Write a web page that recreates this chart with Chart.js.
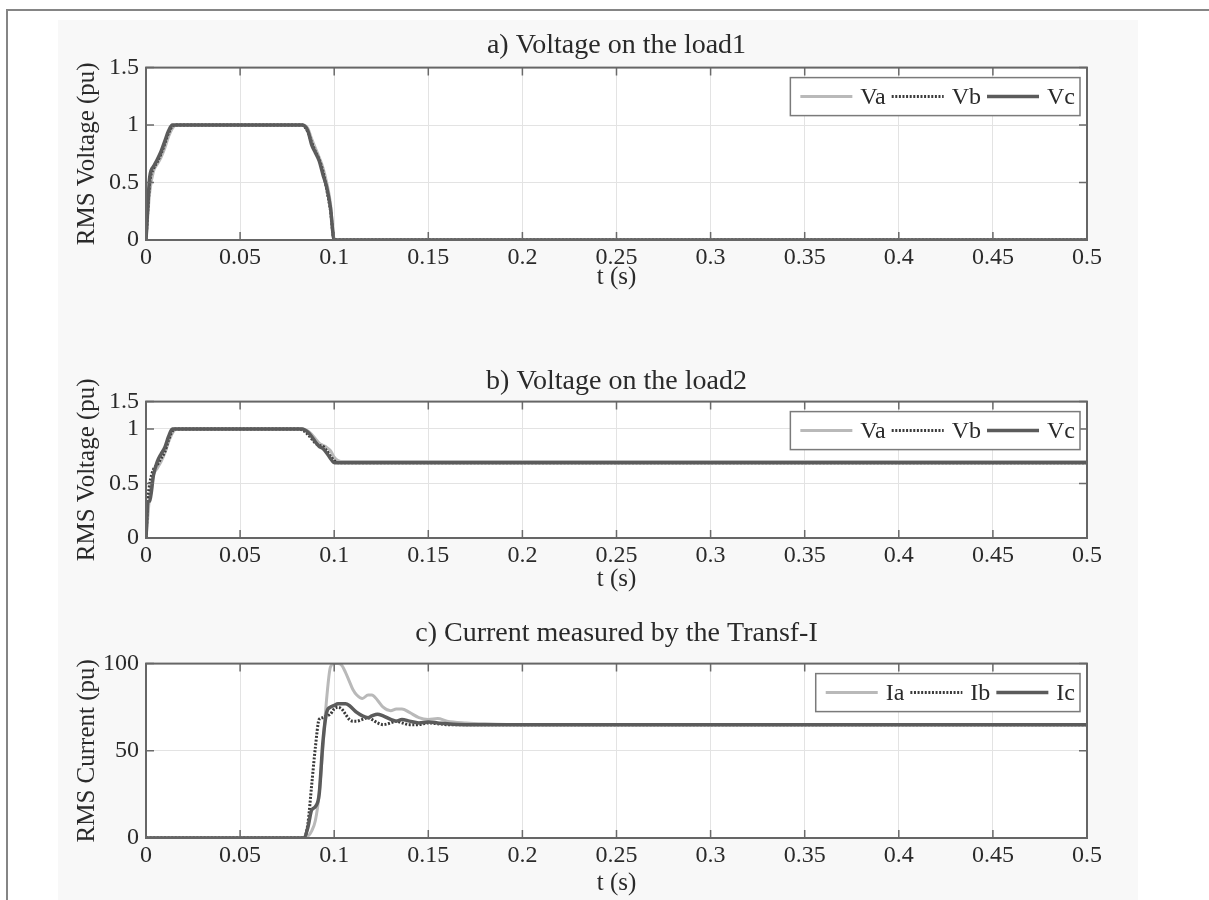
<!DOCTYPE html>
<html><head><meta charset="utf-8">
<script src="https://cdn.jsdelivr.net/npm/chart.js@4.4.0/dist/chart.umd.min.js"></script>
<style>
html,body{margin:0;padding:0;background:#fff;}
body{width:1209px;height:900px;position:relative;overflow:hidden;}
#frame{position:absolute;left:6px;top:9px;width:1203px;height:891px;border-top:2px solid #858585;border-left:2px solid #858585;box-sizing:border-box;}
#fig{position:absolute;left:58px;top:20px;width:1080px;height:880px;background:#f8f8f8;}
canvas{position:absolute;left:0;}
</style></head><body>
<div id="frame"></div><div id="fig"></div>
<canvas id="cA" width="1233" height="290" style="top:20px;width:1233px;height:290px"></canvas>
<canvas id="cB" width="1233" height="250" style="top:355px;width:1233px;height:250px"></canvas>
<canvas id="cC" width="1233" height="292" style="top:608px;width:1233px;height:292px"></canvas>
<script>
// ---------- shared axis ticks ----------
const xTicks = [0, 0.05, 0.1, 0.15, 0.2, 0.25, 0.3, 0.35, 0.4, 0.45, 0.5];
const xTickLabels = ['0', '0.05', '0.1', '0.15', '0.2', '0.25', '0.3', '0.35', '0.4', '0.45', '0.5'];

// ---------- a) Voltage on the load1 ----------
const titleA = 'a) Voltage on the load1';
const tA = [0, 0.002, 0.004, 0.006, 0.008, 0.010, 0.012, 0.014, 0.016, 0.02, 0.08, 0.083, 0.086, 0.088, 0.09, 0.092, 0.094, 0.096, 0.098, 0.1, 0.102, 0.5];
const a_Va = [0, 0.42, 0.6, 0.66, 0.72, 0.8, 0.9, 0.97, 1, 1, 1, 1, 0.97, 0.88, 0.8, 0.72, 0.63, 0.5, 0.32, 0, 0, 0];
const a_Vb = [0, 0.5, 0.62, 0.68, 0.75, 0.84, 0.93, 0.99, 1, 1, 1, 1, 0.94, 0.85, 0.77, 0.7, 0.6, 0.44, 0.26, 0, 0, 0];
const a_Vc = [0, 0.55, 0.64, 0.7, 0.77, 0.86, 0.95, 1, 1, 1, 1, 1, 0.95, 0.83, 0.76, 0.69, 0.57, 0.46, 0.28, 0, 0, 0];
const yTicksA = [0, 0.5, 1, 1.5];
const yTickLabelsA = ['0', '0.5', '1', '1.5'];

// ---------- b) Voltage on the load2 ----------
const titleB = 'b) Voltage on the load2';
const tB = [0, 0.001, 0.002, 0.004, 0.006, 0.008, 0.010, 0.012, 0.014, 0.016, 0.02, 0.08, 0.083, 0.086, 0.088, 0.09, 0.092, 0.094, 0.096, 0.098, 0.1, 0.102, 0.105, 0.11, 0.12, 0.13, 0.5];
const b_Va = [0, 0.2, 0.4, 0.58, 0.64, 0.7, 0.78, 0.88, 0.96, 1, 1, 1, 1, 0.98, 0.95, 0.91, 0.87, 0.85, 0.83, 0.8, 0.74, 0.71, 0.7, 0.7, 0.7, 0.7, 0.7];
const b_Vb = [0, 0.35, 0.5, 0.63, 0.67, 0.73, 0.79, 0.9, 0.98, 1, 1, 1, 0.99, 0.95, 0.91, 0.87, 0.85, 0.84, 0.8, 0.75, 0.71, 0.69, 0.69, 0.69, 0.69, 0.69, 0.69];
const b_Vc = [0, 0.33, 0.34, 0.58, 0.7, 0.77, 0.83, 0.93, 1, 1, 1, 1, 1, 0.97, 0.93, 0.88, 0.84, 0.82, 0.78, 0.73, 0.69, 0.69, 0.69, 0.69, 0.69, 0.69, 0.69];
const yTicksB = [0, 0.5, 1, 1.25];
const yTickLabelsB = ['0', '0.5', '1', '1.5'];

// ---------- c) Current measured by the Transf-I ----------
const titleC = 'c) Current measured by the Transf-I';
const tC = [0, 0.084, 0.086, 0.088, 0.09, 0.092, 0.094, 0.096, 0.098, 0.1, 0.102, 0.104, 0.106, 0.108, 0.11, 0.112, 0.115, 0.118, 0.12, 0.123, 0.126, 0.13, 0.133, 0.136, 0.14, 0.145, 0.15, 0.155, 0.16, 0.17, 0.18, 0.2, 0.5];
const c_Ia = [0, 0, 1, 4, 10, 25, 52, 80, 98, 100, 100, 99, 95, 90, 85, 82, 80, 82, 82, 79, 75, 73, 74, 74, 72, 69, 68, 68.5, 67, 66, 65.5, 65, 65];
const c_Ib = [0, 0, 8, 30, 52, 68, 69, 70, 71, 74, 75, 74, 71, 68, 67, 67, 68, 69, 68, 66, 65, 66, 67, 66, 65, 65, 66, 65.5, 65, 65, 65, 65, 65];
const c_Ic = [0, 0, 6, 16, 18, 25, 55, 72, 75, 76, 77, 77, 77, 76, 74, 72, 70, 69, 70, 71, 70, 68, 67, 68, 67, 66, 66.5, 66, 65.5, 65, 65, 65, 65];
const yTicksC = [0, 50, 100];
const yTickLabelsC = ['0', '50', '100'];

// ---------- styles ----------
const TXT = '#2a2a2a';
const GRID = '#e3e3e3';
Chart.defaults.font.family = "'Liberation Serif', 'DejaVu Serif', serif";
Chart.defaults.color = TXT;

function pts(t, v) { return t.map((x, i) => ({x: x, y: v[i]})); }
function series(label, t, v, kind) {
  const st = {
    a: {borderColor: '#b9b9b9', borderWidth: 3, borderDash: [], order: 2},
    b: {borderColor: '#3a3a3a', borderWidth: 3, borderDash: [2, 1.6], order: 1},
    c: {borderColor: '#5b5b5b', borderWidth: 3.5, borderDash: [], order: 0}
  }[kind];
  return Object.assign({label: label, data: pts(t, v), pointRadius: 0, cubicInterpolationMode: 'monotone', fill: false, borderCapStyle: 'butt'}, st);
}

const plotBg = {
  id: 'plotBg',
  beforeDraw(chart) {
    const a = chart.chartArea, ctx = chart.ctx;
    ctx.save(); ctx.fillStyle = '#ffffff';
    ctx.fillRect(a.left, a.top, a.right - a.left, a.bottom - a.top);
    ctx.restore();
  }
};
const boxTicks = {
  id: 'boxTicks',
  afterDatasetsDraw(chart) {
    const a = chart.chartArea, ctx = chart.ctx;
    const xs = chart.scales.x, ys = chart.scales.y;
    ctx.save();
    ctx.strokeStyle = '#6a6a6a'; ctx.lineWidth = 1.5; ctx.setLineDash([]);
    const L = 8;
    ctx.beginPath();
    xs.ticks.forEach(tk => {
      const px = xs.getPixelForValue(tk.value);
      ctx.moveTo(px, a.bottom); ctx.lineTo(px, a.bottom - L);
      ctx.moveTo(px, a.top); ctx.lineTo(px, a.top + L);
    });
    ys.ticks.forEach(tk => {
      const py = ys.getPixelForValue(tk.value);
      ctx.moveTo(a.left, py); ctx.lineTo(a.left + L, py);
      ctx.moveTo(a.right, py); ctx.lineTo(a.right - L, py);
    });
    ctx.stroke();
    ctx.strokeStyle = '#666'; ctx.lineWidth = 2;
    ctx.strokeRect(a.left, a.top, a.right - a.left, a.bottom - a.top);
    ctx.restore();
  }
};
const boxLegend = {
  id: 'boxLegend',
  afterDraw(chart) {
    const ctx = chart.ctx, a = chart.chartArea, ds = chart.data.datasets;
    ctx.save();
    ctx.font = "24px 'Liberation Serif', serif";
    const sample = 52, gapS = 8, gapItem = 6, padL = 10, padR = 5, h = 38;
    let w = padL + padR;
    ds.forEach((d, i) => { w += sample + gapS + ctx.measureText(d.label).width + (i < ds.length - 1 ? gapItem : 0); });
    const x0 = a.right - 7 - w, y0 = a.top + 10;
    ctx.fillStyle = '#fff'; ctx.fillRect(x0, y0, w, h);
    ctx.strokeStyle = '#7a7a7a'; ctx.lineWidth = 1.5; ctx.strokeRect(x0, y0, w, h);
    let x = x0 + padL; const cy = y0 + h / 2;
    ds.forEach(d => {
      ctx.beginPath(); ctx.setLineDash(d.borderDash || []);
      ctx.strokeStyle = d.borderColor; ctx.lineWidth = d.borderWidth;
      ctx.moveTo(x, cy); ctx.lineTo(x + sample, cy); ctx.stroke();
      ctx.setLineDash([]);
      x += sample + gapS;
      ctx.fillStyle = TXT; ctx.textBaseline = 'middle'; ctx.textAlign = 'left';
      ctx.fillText(d.label, x, cy + 1);
      x += ctx.measureText(d.label).width + gapItem;
    });
    ctx.restore();
  }
};

function makeChart(id, cfg) {
  return new Chart(document.getElementById(id), {
    type: 'line',
    data: {datasets: cfg.datasets},
    options: {
      responsive: false, animation: false, devicePixelRatio: 1,
      layout: {padding: {left: 0, right: 0, top: 0, bottom: 0}},
      plugins: {
        legend: {display: false}, tooltip: {enabled: false},
        title: {display: true, text: cfg.title, color: TXT, font: {size: 28, weight: 'normal'}, padding: cfg.titlePad}
      },
      scales: {
        x: {
          type: 'linear', min: 0, max: 0.5,
          afterBuildTicks: s => { s.ticks = xTicks.map(v => ({value: v})); },
          afterFit: s => { s.height = cfg.xh; },
          ticks: {callback: (v, i) => xTickLabels[i], font: {size: 24}, padding: 3, color: TXT, maxRotation: 0, autoSkip: false},
          grid: {color: GRID, drawTicks: false, lineWidth: 1},
          border: {display: false},
          title: {display: true, text: 't (s)', color: TXT, font: {size: 25}, padding: {top: 0, bottom: cfg.xtPad}}
        },
        y: {
          type: 'linear', position: 'left', min: cfg.ymin, max: cfg.ymax,
          afterBuildTicks: s => { s.ticks = cfg.yTicks.map(v => ({value: v})); },
          afterFit: s => { s.width = 146; },
          ticks: {callback: (v, i) => cfg.yLabels[i], font: {size: 24}, padding: 7, color: TXT, autoSkip: false},
          grid: {color: GRID, drawTicks: false, lineWidth: 1},
          border: {display: false},
          title: {display: true, text: cfg.ylabel, color: TXT, font: {size: 25}, padding: {top: 72, bottom: 0}}
        },
        yRight: {
          type: 'linear', position: 'right', min: cfg.ymin, max: cfg.ymax,
          afterFit: s => { s.width = 146; },
          ticks: {display: false},
          grid: {display: false, drawTicks: false},
          border: {display: false}
        }
      }
    },
    plugins: [plotBg, boxTicks, boxLegend]
  });
}

makeChart('cA', {
  title: titleA, titlePad: {top: 9, bottom: 5}, xh: 70, xtPad: 18,
  ylabel: 'RMS Voltage (pu)', ymin: 0, ymax: 1.5, yTicks: yTicksA, yLabels: yTickLabelsA,
  datasets: [series('Va', tA, a_Va, 'a'), series('Vb', tA, a_Vb, 'b'), series('Vc', tA, a_Vc, 'c')]
});
makeChart('cB', {
  title: titleB, titlePad: {top: 10, bottom: 3}, xh: 67, xtPad: 11,
  ylabel: 'RMS Voltage (pu)', ymin: 0, ymax: 1.25, yTicks: yTicksB, yLabels: yTickLabelsB,
  datasets: [series('Va', tB, b_Va, 'a'), series('Vb', tB, b_Vb, 'b'), series('Vc', tB, b_Vc, 'c')]
});
makeChart('cC', {
  title: titleC, titlePad: {top: 9, bottom: 13}, xh: 62, xtPad: 2,
  ylabel: 'RMS Current (pu)', ymin: 0, ymax: 100, yTicks: yTicksC, yLabels: yTickLabelsC,
  datasets: [series('Ia', tC, c_Ia, 'a'), series('Ib', tC, c_Ib, 'b'), series('Ic', tC, c_Ic, 'c')]
});
</script>
</body></html>
